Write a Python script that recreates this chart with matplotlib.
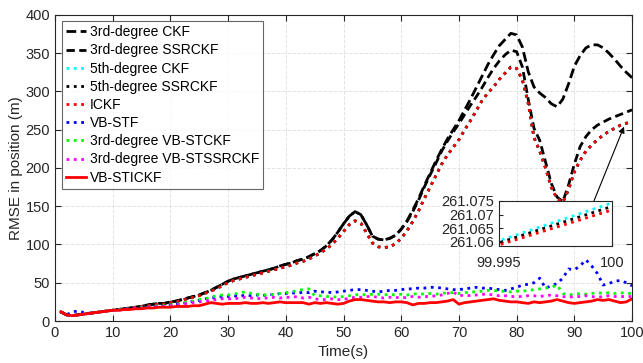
import numpy as np
import matplotlib.pyplot as plt

plt.rcParams['font.family'] = ['Liberation Sans', 'DejaVu Sans']

# time axis (s)
t = np.arange(1, 101)

ckf3 = [12, 8, 7, 8, 9, 10, 11, 12, 13, 14,
        15, 16, 17, 18, 19, 21, 22, 23, 23, 25,
        26, 28, 30, 32, 34, 37, 40, 44, 48, 52,
        55, 57, 59, 61, 63, 65, 67, 69, 72, 74,
        76, 79, 81, 84, 88, 92, 98, 106, 116, 127,
        137, 143, 139, 126, 111, 107, 106, 108, 112, 120,
        131, 145, 160, 177, 193, 209, 224, 238, 250, 262,
        276, 290, 305, 320, 335, 348, 360, 368, 376, 374,
        358, 326, 306, 298, 292, 284, 280, 290, 310, 333,
        347, 357, 361, 361, 357, 350, 342, 333, 325, 318]

ssrckf3 = [12, 8, 7, 8, 9, 10, 11, 12, 13, 14,
           15, 16, 17, 18, 19, 21, 22, 23, 23, 25,
           26, 28, 30, 32, 34, 37, 40, 44, 48, 52,
           55, 57, 59, 61, 63, 65, 67, 69, 72, 74,
           76, 79, 81, 84, 88, 92, 98, 106, 116, 127,
           137, 143, 139, 126, 111, 107, 106, 108, 112, 120,
           130, 143, 158, 175, 191, 206, 222, 235, 247, 258,
           270, 282, 293, 305, 318, 330, 340, 348, 354, 352,
           332, 290, 252, 236, 208, 180, 162, 156, 178, 205,
           228, 241, 250, 256, 260, 264, 267, 270, 273, 276]

ckf5 = [12, 8, 7, 8, 9, 10, 11, 12, 13, 14,
        15, 16, 17, 18, 19, 20, 21, 22, 22, 24,
        25, 27, 29, 31, 33, 36, 39, 42, 46, 50,
        53, 55, 57, 59, 61, 63, 65, 67, 69, 71,
        73, 76, 78, 81, 85, 89, 94, 100, 108, 117,
        126, 131, 128, 115, 102, 97, 96, 97, 101, 108,
        118, 130, 144, 160, 175, 190, 205, 217, 227, 237,
        250, 262, 275, 288, 298, 306, 316, 324, 332, 330,
        315, 285, 240, 222, 200, 175, 160, 155, 172, 195,
        210, 222, 230, 237, 243, 248, 252, 256, 258.294, 261.0743]

ssrckf5 = [12, 8, 7, 8, 9, 10, 11, 12, 13, 14,
           15, 16, 17, 18, 19, 20.5, 21.5, 22.5, 22.5, 24.5,
           25.5, 27.5, 29.5, 31.5, 33.5, 36.5, 39.5, 42.5, 46.5, 50.5,
           53, 55, 57, 59, 61, 63, 65, 67, 69, 71,
           73, 76, 78, 81, 85, 89, 94, 100, 108, 117,
           126, 131, 128, 115, 102, 97, 96, 97, 101, 108,
           118, 130, 144, 160, 175, 190, 205, 217, 227, 237,
           250, 262, 275, 288, 298, 306, 316, 324, 332, 330,
           315, 285, 240, 222, 200, 175, 160, 155, 172, 195,
           210, 222, 230, 237, 243, 248, 252, 256, 258.41, 261.0730]

ickf = [12, 8, 7, 8, 9, 10, 11, 12, 13, 14,
        15, 16, 17, 18, 19, 20, 21, 22, 22, 24,
        25, 27, 29, 31, 33, 36, 39, 42, 46, 50,
        53, 55, 57, 59, 61, 63, 65, 67, 69, 71,
        73, 76, 78, 81, 85, 89, 94, 100, 108, 117,
        126, 131, 128, 115, 102, 97, 96, 97, 101, 108,
        118, 130, 144, 160, 175, 190, 205, 217, 227, 237,
        250, 262, 275, 288, 298, 306, 316, 324, 332, 330,
        315, 285, 240, 222, 200, 175, 160, 155, 172, 195,
        210, 222, 230, 237, 243, 248, 252, 256, 258.51, 261.0717]

vbstf = [12, 8, 12, 13, 11, 10, 11, 12, 13, 14,
         15, 16, 16, 17, 18, 18, 19, 19, 20, 21,
         22, 23, 24, 26, 27, 29, 30, 31, 32, 32,
         33, 32, 34, 33, 34, 33, 35, 34, 36, 36,
         37, 36, 38, 37, 39, 38, 38, 37, 38, 39,
         40, 41, 41, 40, 39, 38, 39, 40, 40, 41,
         42, 42, 43, 43, 44, 44, 43, 42, 41, 41,
         42, 43, 44, 43, 43, 42, 41, 40, 42, 44,
         47, 48, 50, 56, 43, 46, 49, 56, 68, 67,
         72, 80, 72, 62, 47, 49, 52, 53, 50, 46]

vbstckf3 = [12, 8, 7, 8, 9, 10, 11, 12, 13, 14,
            15, 15, 16, 17, 18, 18, 19, 20, 20, 21,
            22, 23, 25, 26, 28, 29, 31, 33, 34, 34,
            35, 37, 38, 36, 35, 34, 34, 35, 36, 37,
            38, 40, 41, 42, 33, 33, 32, 32, 31, 32,
            33, 34, 35, 34, 35, 35, 34, 35, 34, 35,
            34, 35, 36, 35, 36, 35, 36, 37, 37, 36,
            37, 38, 38, 39, 40, 40, 39, 39, 38, 39,
            39, 40, 41, 42, 43, 44, 47, 36, 34, 35,
            36, 35, 36, 37, 36, 37, 36, 37, 36, 36]

vbstssrckf3 = [12, 8, 7, 8, 9, 10, 11, 12, 13, 14,
               14, 15, 16, 17, 17, 18, 18, 19, 19, 20,
               21, 22, 23, 24, 25, 26, 27, 28, 29, 29,
               29, 30, 31, 30, 29, 30, 30, 31, 30, 31,
               31, 32, 30, 31, 29, 28, 28, 29, 28, 28,
               30, 31, 31, 32, 32, 31, 30, 31, 31, 30,
               31, 32, 31, 32, 32, 33, 34, 36, 38, 33,
               34, 33, 34, 35, 35, 34, 33, 33, 32, 32,
               32, 33, 33, 32, 33, 34, 33, 32, 31, 32,
               32, 33, 32, 31, 32, 33, 32, 32, 32, 32]

vbstickf = [12, 8, 7, 8, 9, 10, 11, 12, 13, 14,
            14, 15, 15, 16, 16, 17, 17, 18, 18, 18,
            19, 19, 19, 20, 20, 22, 24, 23, 22, 23,
            23, 23, 24, 23, 23, 24, 23, 24, 25, 24,
            24, 24, 24, 22, 24, 23, 24, 23, 22, 23,
            26, 28, 28, 27, 26, 25, 25, 24, 25, 25,
            24, 21, 23, 23, 24, 24, 25, 26, 28, 22,
            24, 25, 26, 27, 28, 29, 27, 26, 25, 25,
            24, 23, 25, 24, 25, 26, 28, 26, 24, 23,
            24, 25, 26, 28, 27, 28, 26, 24, 25, 29]

series = [
    ('3rd-degree CKF', ckf3, 'k', (0, (3.5, 1.6)), 2.0),
    ('3rd-degree SSRCKF', ssrckf3, 'k', (0, (3.0, 1.6)), 2.0),
    ('5th-degree CKF', ckf5, 'cyan', ':', 2.0),
    ('5th-degree SSRCKF', ssrckf5, 'k', ':', 2.0),
    ('ICKF', ickf, 'red', ':', 2.0),
    ('VB-STF', vbstf, 'blue', ':', 2.0),
    ('3rd-degree VB-STCKF', vbstckf3, '#00ff00', ':', 2.0),
    ('3rd-degree VB-STSSRCKF', vbstssrckf3, 'magenta', ':', 2.0),
    ('VB-STICKF', vbstickf, 'red', '-', 2.0),
]

fig = plt.figure(figsize=(6.43, 3.63), dpi=100)
ax = fig.add_axes([0.0855, 0.1157, 0.8975, 0.843])

for name, y, c, ls, lw in series:
    ax.plot(t, y, color=c, linestyle=ls, linewidth=lw, label=name)

ax.set_xlim(0, 100)
ax.set_ylim(0, 400)
ax.set_xticks(np.arange(0, 101, 10))
ax.set_yticks(np.arange(0, 401, 50))
ax.grid(True, linestyle='--', color='#e3e3e3', linewidth=0.7)
ax.tick_params(direction='in', top=True, right=True, labelsize=10.5,
               length=4, width=0.8, colors='0.15')
for s in ax.spines.values():
    s.set_color('0.15')
    s.set_linewidth(0.8)
ax.set_xlabel('Time(s)', fontsize=11, color='0.15', labelpad=4)
ax.set_ylabel('RMSE in position (m)', fontsize=11, color='0.15', labelpad=2)

leg = ax.legend(loc='upper left', bbox_to_anchor=(0.012, 0.98), fontsize=10,
                frameon=True, fancybox=False, edgecolor='0.25',
                handlelength=1.4, handletextpad=0.3, labelspacing=0.3,
                borderpad=0.3, borderaxespad=0)
leg.get_frame().set_linewidth(0.8)

# arrow from inset to the curve ends
ax.annotate('', xy=(98.6, 254), xytext=(93.4, 157),
            arrowprops=dict(arrowstyle='-|>', color='k', lw=0.8,
                            mutation_scale=9, shrinkA=0, shrinkB=0))

# zoomed inset
axins = fig.add_axes([0.776, 0.3223, 0.1757, 0.124])
for name, y, c, ls, lw in series[2:5]:
    axins.plot(t, y, color=c, linestyle=ls, linewidth=2.0)
axins.set_xlim(99.995, 100)
axins.set_ylim(261.0585, 261.075)
axins.set_xticks([99.995, 100])
axins.set_xticklabels(['99.995', '100'])
axins.set_yticks([261.06, 261.065, 261.07, 261.075])
axins.set_yticklabels(['261.06', '261.065', '261.07', '261.075'])
axins.tick_params(direction='in', labelsize=10.5, length=3, width=0.8,
                  colors='0.15')
axins.tick_params(axis='x', pad=7)
for s in axins.spines.values():
    s.set_color('0.15')
    s.set_linewidth(0.8)

fig.savefig('out.png', dpi=100)
